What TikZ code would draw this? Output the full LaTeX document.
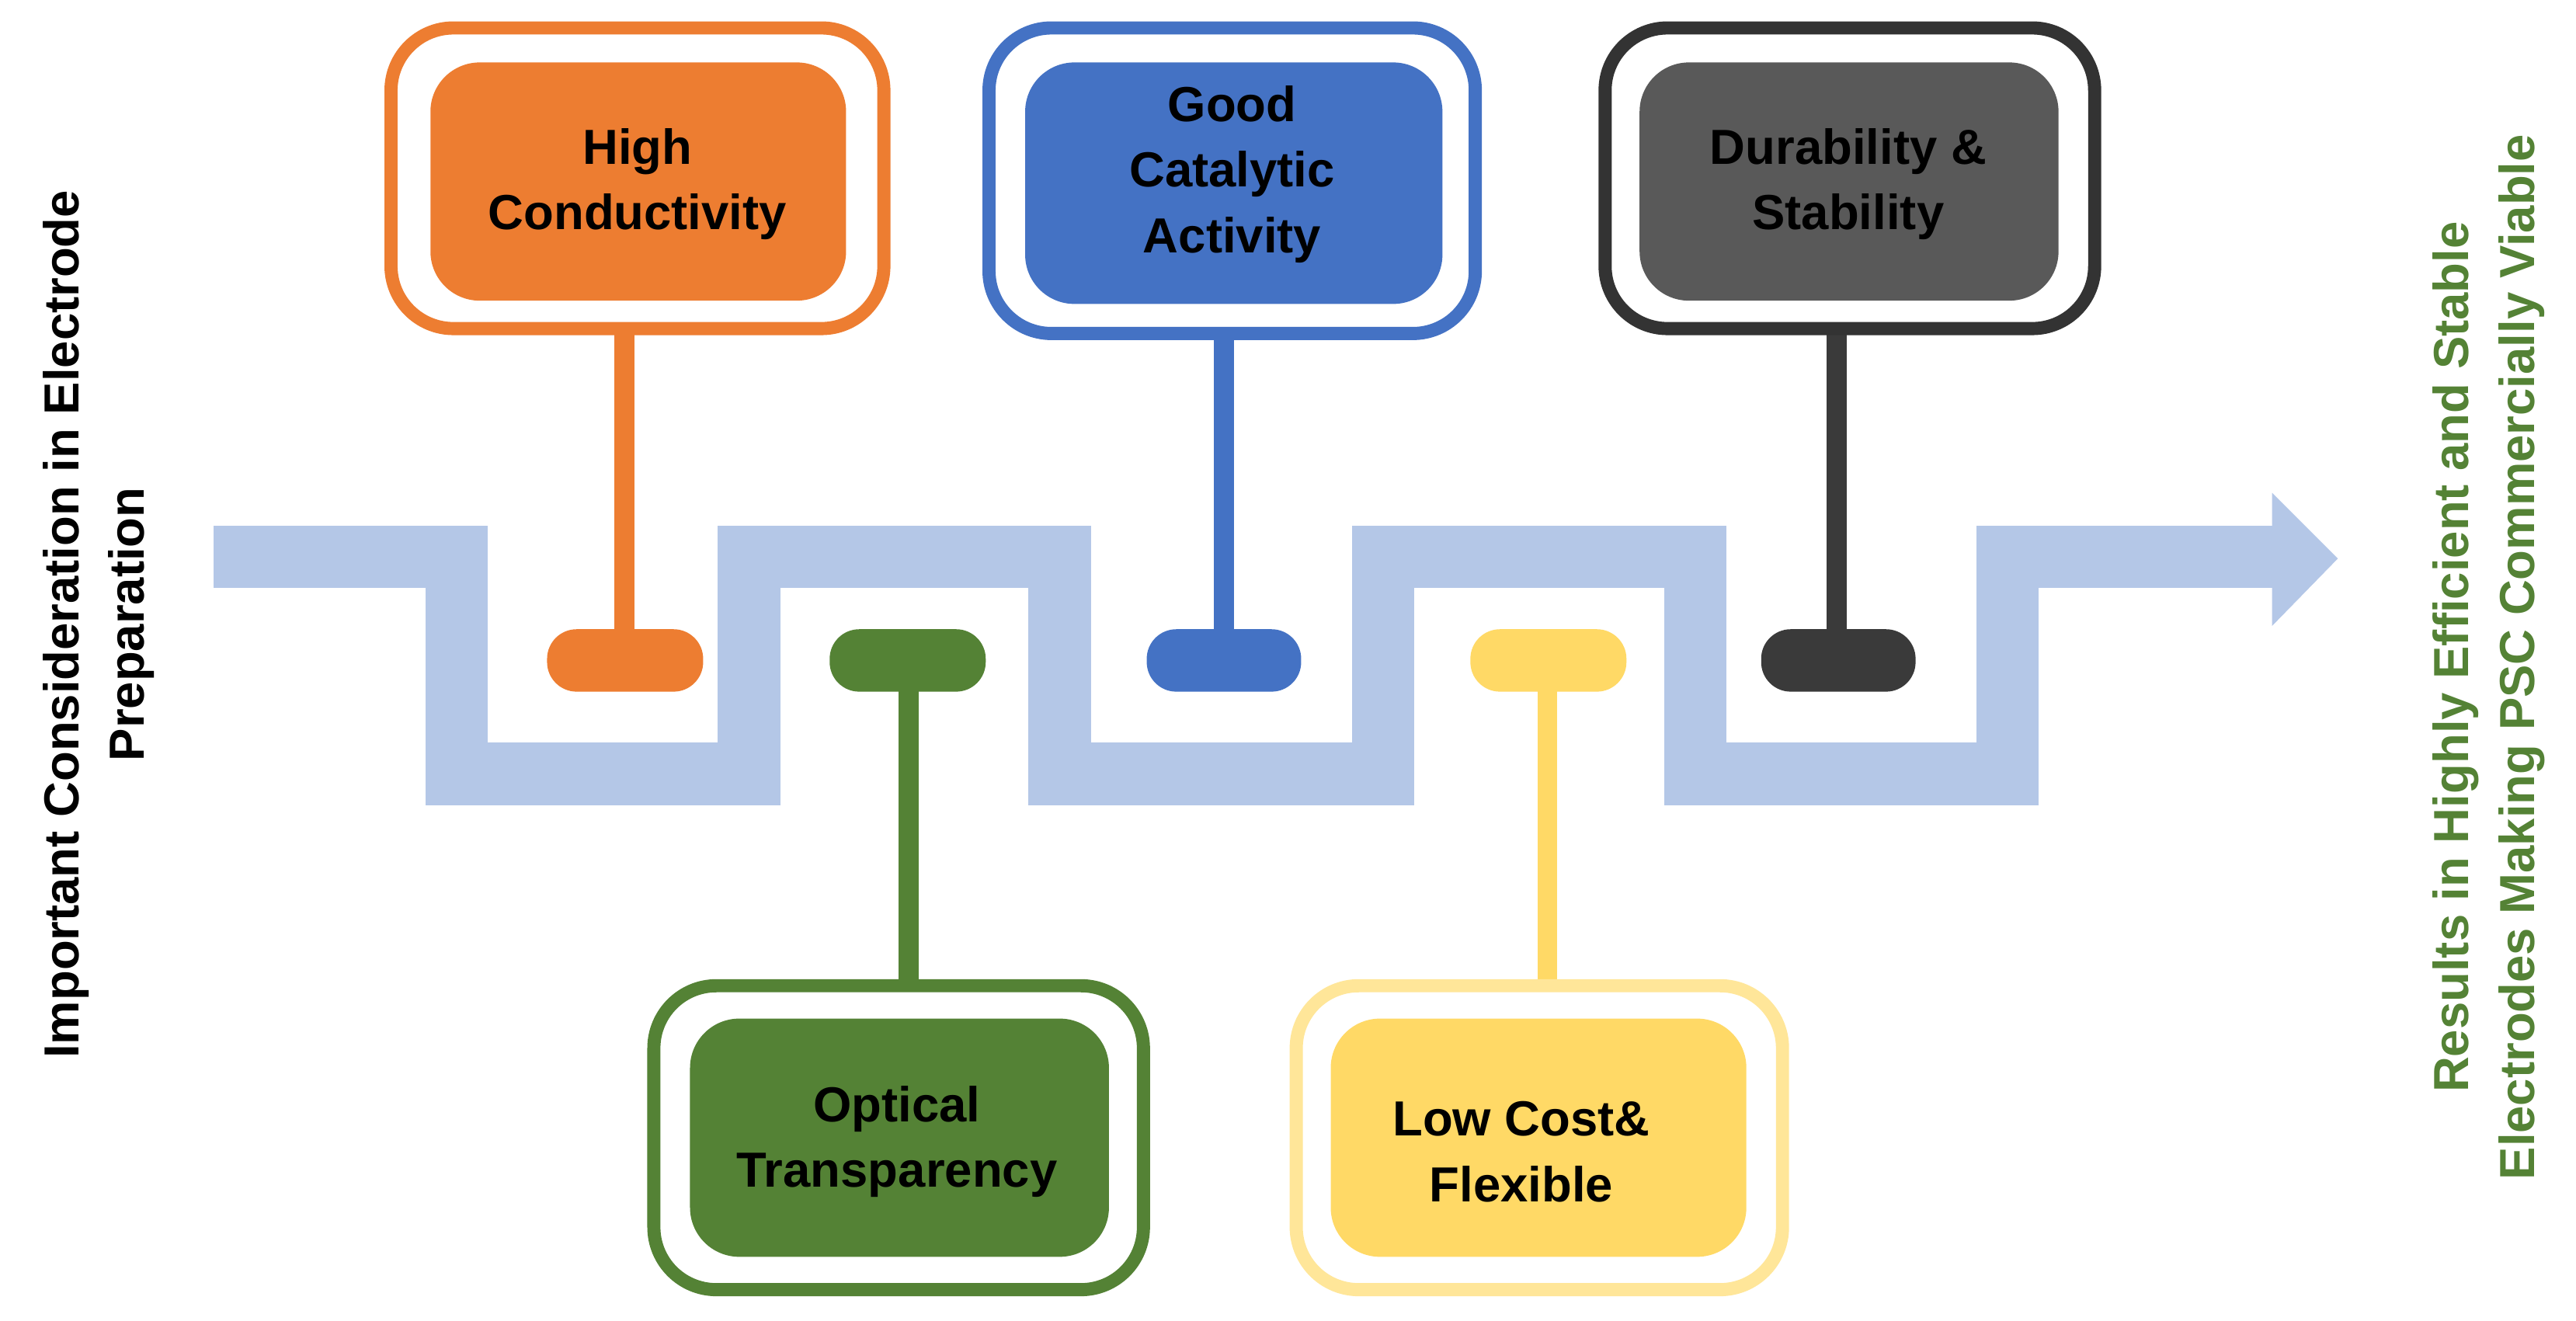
\documentclass[tikz,border=0pt]{standalone}
\usepackage{fontspec}
\setmainfont{Liberation Sans}
\definecolor{flow}{HTML}{B4C7E7}
\definecolor{cor}{HTML}{ED7D31}
\definecolor{cgr}{HTML}{548235}
\definecolor{cbl}{HTML}{4472C4}
\definecolor{cyl}{HTML}{FFD966}
\definecolor{cyo}{HTML}{FFE699}
\definecolor{cdk}{HTML}{595959}
\definecolor{cdo}{HTML}{333333}
\definecolor{cdp}{HTML}{3A3A3A}
\begin{document}
\begin{tikzpicture}[x=1pt,y=-1pt,
  lab/.style={font=\bfseries\fontsize{30}{40}\selectfont,align=center,text=black},
  outer/.style={draw=#1,line width=8pt,rounded corners=38pt,fill=white},
  inner/.style={fill=#1,rounded corners=30pt},
  pill/.style={fill=#1,rounded corners=18pt},
  stem/.style={draw=#1,line width=12pt}]
\useasboundingbox (0,0) rectangle (1568,804);
% flow band
\draw[flow,line width=38pt,line join=miter]
  (130,339) -- (278,339) -- (278,471) -- (456,471) -- (456,339) -- (645,339)
  -- (645,471) -- (842,471) -- (842,339) -- (1032,339) -- (1032,471)
  -- (1222,471) -- (1222,339) -- (1385,339);
\fill[flow] (1383,300) -- (1423,340) -- (1383,381) -- cycle;
% orange
\coordinate (o1) at (380,200); \coordinate (p1) at (380,402);
\draw[stem=cor] (o1) -- (p1);
\draw[outer=cor] (238,17) rectangle (538,200);
\fill[inner=cor] (262,38) rectangle (515,183);
\node[lab] (t1) at (388,112) {High\\Conductivity};
\fill[pill=cor] (333,383) rectangle (428,421);
% green
\coordinate (o2) at (553,600); \coordinate (p2) at (553,402);
\draw[stem=cgr] (o2) -- (p2);
\draw[outer=cgr] (398,600) rectangle (696,785);
\fill[inner=cgr] (420,620) rectangle (675,765);
\node[lab] (t2) at (546,695) {Optical\\Transparency};
\fill[pill=cgr] (505,383) rectangle (600,421);
% blue
\coordinate (o3) at (745,203); \coordinate (p3) at (745,402);
\draw[stem=cbl] (o3) -- (p3);
\draw[outer=cbl] (602,17) rectangle (898,203);
\fill[inner=cbl] (624,38) rectangle (878,185);
\node[lab] (t3) at (750,106) {Good\\Catalytic\\Activity};
\fill[pill=cbl] (698,383) rectangle (792,421);
% yellow
\coordinate (o4) at (942,600); \coordinate (p4) at (942,402);
\draw[stem=cyl] (o4) -- (p4);
\draw[outer=cyo] (789,600) rectangle (1085,785);
\fill[inner=cyl] (810,620) rectangle (1063,765);
\node[lab] (t4) at (926,701) {Low Cost\&\\Flexible};
\fill[pill=cyl] (895,383) rectangle (990,421);
% dark
\coordinate (o5) at (1118,200); \coordinate (p5) at (1118,402);
\draw[stem=cdp] (o5) -- (p5);
\draw[outer=cdo] (977,17) rectangle (1275,200);
\fill[inner=cdk] (998,38) rectangle (1253,183);
\node[lab] (t5) at (1125,112) {Durability \&\\Stability};
\fill[pill=cdp] (1072,383) rectangle (1166,421);
% side texts
\node[lab,rotate=90] (L) at (60,380) {Important Consideration in Electrode\\Preparation};
\node[lab,rotate=90,text=cgr] (R) at (1515,400) {Results in Highly Efficient and Stable\\Electrodes Making PSC Commercially Viable};
\end{tikzpicture}
\end{document}
